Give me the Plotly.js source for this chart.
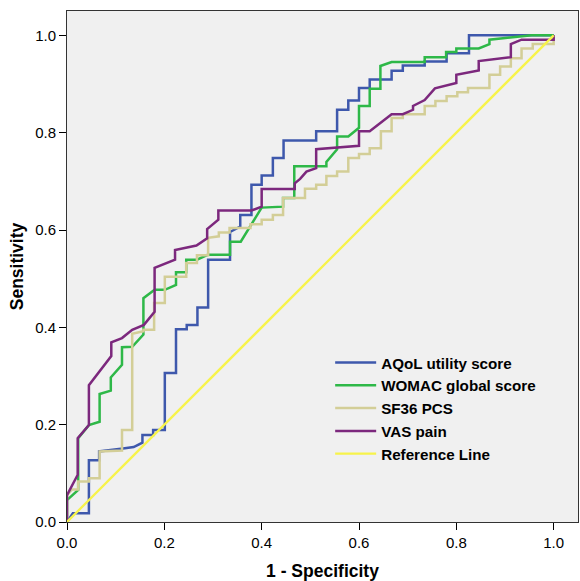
<!DOCTYPE html>
<html>
<head>
<meta charset="utf-8">
<script src="https://cdn.plot.ly/plotly-3.0.1.min.js"></script>
<style>html,body{margin:0;padding:0;background:#fff;}#chart{width:580px;height:581px;}</style>
</head>
<body>
<div id="chart"></div>
<script>
// Series names
const seriesNames = ["AQoL utility score", "WOMAC global score", "SF36 PCS", "VAS pain", "Reference Line"];

// AQoL utility score (1 - specificity, sensitivity)
const aqolX = [0,0.012,0.045,0.045,0.066,0.066,0.115,0.137,0.155,0.155,0.177,0.177,0.201,0.201,0.224,0.224,0.246,0.246,0.268,0.268,0.290,0.290,0.335,0.335,0.356,0.356,0.379,0.379,0.400,0.400,0.423,0.423,0.445,0.445,0.512,0.512,0.555,0.555,0.578,0.578,0.600,0.600,0.622,0.622,0.667,0.667,0.690,0.690,0.735,0.735,0.780,0.780,0.826,0.826,1.0];
const aqolY = [0,0.018,0.018,0.127,0.127,0.145,0.151,0.154,0.163,0.179,0.179,0.189,0.189,0.306,0.306,0.396,0.396,0.405,0.405,0.441,0.441,0.539,0.539,0.596,0.607,0.631,0.631,0.693,0.693,0.712,0.712,0.748,0.748,0.784,0.784,0.803,0.803,0.847,0.847,0.866,0.866,0.892,0.892,0.909,0.909,0.927,0.927,0.938,0.938,0.946,0.946,0.963,0.963,1.0,1.0];

// WOMAC global score
const womacX = [0,0,0.023,0.023,0.045,0.067,0.067,0.090,0.090,0.113,0.113,0.134,0.157,0.157,0.180,0.201,0.224,0.224,0.245,0.245,0.267,0.289,0.335,0.335,0.357,0.400,0.444,0.444,0.467,0.467,0.533,0.533,0.555,0.555,0.578,0.600,0.600,0.622,0.622,0.644,0.644,0.667,0.735,0.735,0.779,0.779,0.800,0.800,0.846,0.868,0.868,0.955,1.0];
const womacY = [0,0.045,0.066,0.172,0.199,0.206,0.263,0.270,0.297,0.323,0.359,0.360,0.385,0.460,0.477,0.477,0.487,0.513,0.513,0.539,0.539,0.549,0.549,0.576,0.576,0.646,0.648,0.666,0.666,0.731,0.731,0.740,0.766,0.792,0.792,0.810,0.855,0.855,0.890,0.890,0.937,0.945,0.945,0.955,0.955,0.966,0.966,0.973,0.973,0.982,0.991,1.0,1.0];

// SF36 PCS
const sf36X = [0,0,0.010,0.023,0.023,0.045,0.045,0.067,0.067,0.113,0.113,0.134,0.134,0.157,0.157,0.179,0.179,0.201,0.201,0.245,0.245,0.267,0.267,0.290,0.290,0.312,0.312,0.334,0.334,0.377,0.377,0.400,0.400,0.423,0.423,0.444,0.444,0.489,0.489,0.512,0.512,0.533,0.533,0.555,0.555,0.578,0.578,0.600,0.600,0.622,0.622,0.645,0.645,0.667,0.667,0.690,0.690,0.735,0.735,0.757,0.757,0.780,0.780,0.802,0.802,0.824,0.824,0.868,0.868,0.890,0.890,0.912,0.912,0.934,0.934,0.957,0.957,1.0,1.0];
const sf36Y = [0,0.055,0.067,0.067,0.083,0.083,0.090,0.090,0.145,0.147,0.189,0.189,0.387,0.392,0.395,0.395,0.450,0.450,0.504,0.504,0.532,0.532,0.548,0.548,0.584,0.587,0.595,0.595,0.604,0.604,0.612,0.612,0.621,0.621,0.631,0.631,0.666,0.666,0.685,0.685,0.693,0.693,0.711,0.711,0.720,0.720,0.748,0.748,0.756,0.756,0.768,0.768,0.803,0.803,0.830,0.830,0.838,0.838,0.855,0.855,0.865,0.865,0.875,0.875,0.883,0.883,0.892,0.892,0.919,0.919,0.936,0.936,0.953,0.953,0.973,0.973,0.982,0.982,1.0];

// VAS pain
const vasX = [0,0,0.022,0.022,0.045,0.045,0.091,0.091,0.113,0.134,0.158,0.180,0.180,0.222,0.222,0.266,0.288,0.288,0.311,0.311,0.379,0.400,0.400,0.468,0.468,0.479,0.492,0.512,0.512,0.600,0.600,0.622,0.667,0.690,0.711,0.711,0.735,0.756,0.800,0.800,0.846,0.846,0.912,0.912,0.934,1.0,1.0];
const vasY = [0,0.055,0.097,0.172,0.199,0.281,0.341,0.369,0.378,0.395,0.405,0.432,0.522,0.539,0.559,0.568,0.583,0.602,0.621,0.640,0.640,0.648,0.684,0.684,0.696,0.705,0.720,0.727,0.766,0.773,0.803,0.803,0.838,0.838,0.847,0.855,0.867,0.891,0.902,0.919,0.928,0.947,0.955,0.982,0.991,0.991,1.0];

// Reference line
const refX = [0, 1];
const refY = [0, 1];

const tickVals = [0, 0.2, 0.4, 0.6, 0.8, 1.0];
const tickText = ["0.0", "0.2", "0.4", "0.6", "0.8", "1.0"];

const colors = ["#3E58AC", "#2EB848", "#D3CE97", "#7C287D", "#F7F34A"];

const xs = [aqolX, womacX, sf36X, vasX, refX];
const ys = [aqolY, womacY, sf36Y, vasY, refY];

const traces = seriesNames.map((name, i) => ({
  type: "scatter",
  mode: "lines",
  name: name,
  x: xs[i],
  y: ys[i],
  line: {color: colors[i], width: i === 4 ? 2.3 : 2.5},
  hoverinfo: "skip"
}));

const axisCommon = {
  range: [0, 1.05],
  tickvals: tickVals,
  ticktext: tickText,
  ticks: "outside",
  ticklen: 7,
  tickwidth: 1,
  tickcolor: "#000",
  showline: true,
  linecolor: "#333",
  linewidth: 1,
  mirror: true,
  showgrid: false,
  zeroline: false,
  tickfont: {family: "Arial, 'Liberation Sans', sans-serif", size: 15, color: "#000"},
  fixedrange: true
};

const layout = {
  width: 580,
  height: 581,
  margin: {l: 67, r: 2, t: 11, b: 59},
  paper_bgcolor: "#ffffff",
  plot_bgcolor: "#f0f0f0",
  showlegend: true,
  font: {family: "Arial, 'Liberation Sans', sans-serif", color: "#000"},
  xaxis: Object.assign({}, axisCommon, {
    title: {text: "<b>1 - Specificity</b>", font: {size: 17.5, color: "#000"}, standoff: 14}
  }),
  yaxis: Object.assign({}, axisCommon, {
    title: {text: "<b>Sensitivity</b>", font: {size: 17.5, color: "#000"}, standoff: 7}
  }),
  legend: {
    x: 0.515,
    y: 0.344,
    xanchor: "left",
    yanchor: "top",
    bgcolor: "rgba(0,0,0,0)",
    borderwidth: 0,
    itemwidth: 41,
    font: {family: "Arial, 'Liberation Sans', sans-serif", size: 15.2, color: "#000", weight: "bold"}
  }
};

Plotly.newPlot("chart", traces, layout, {displayModeBar: false, staticPlot: true});
</script>
</body>
</html>
